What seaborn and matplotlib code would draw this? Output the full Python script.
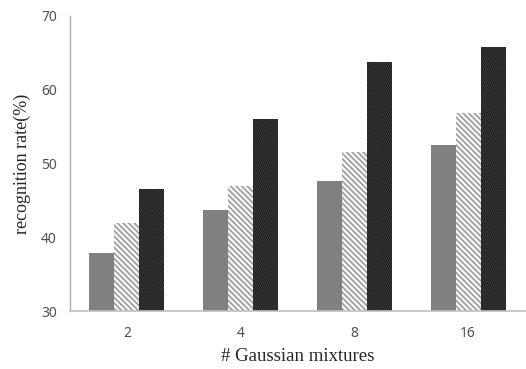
import pandas as pd
import seaborn as sns
import matplotlib.pyplot as plt

## data ------------------------------------------------------------------
mixtures = ['2', '4', '8', '16']
series = ['s1', 's2', 's3']
rate_s1 = [37.9, 43.7, 47.6, 52.5]
rate_s2 = [41.9, 46.9, 51.6, 56.9]
rate_s3 = [46.5, 56.0, 63.8, 65.8]

df = pd.DataFrame({
    'mixtures': mixtures * 3,
    'series': [s for s in series for _ in mixtures],
    'rate': rate_s1 + rate_s2 + rate_s3,
})

## plot ------------------------------------------------------------------
sns.set_style('white')
plt.rcParams['hatch.linewidth'] = 1.2

f = plt.figure(figsize=(5.26, 3.69), dpi=100)
ax = f.add_axes([0.133, 0.157, 0.865, 0.80])

sns.barplot(data=df, x='mixtures', y='rate', hue='series', order=mixtures,
            hue_order=series, width=0.66, gap=0, legend=False, ax=ax,
            palette=['#808080', '#f8f8f8', '#080808'], saturation=1)

styles = [('#808080', ''), ('#9c9c9c', '\\' * 6), ('#4a4a4a', '.' * 8)]
for cont, (ec, hatch) in zip(ax.containers, styles):
    for bar in cont:
        bar.set_hatch(hatch)
        bar.set_edgecolor(ec)
        bar.set_linewidth(0)

ax.set_ylim(30, 70)
ax.set_yticks([30, 40, 50, 60, 70])
ax.set_xlim(-0.5, 3.5)

sns.despine(ax=ax)
ax.spines['left'].set_color('#b0b0b0')
ax.spines['bottom'].set_color('#c0c0c0')
ax.spines['left'].set_linewidth(1.0)
ax.spines['bottom'].set_linewidth(1.2)

ax.tick_params(axis='y', direction='in', length=4, color='#b0b0b0',
               labelsize=10, labelcolor='#505050', pad=9.5)
ax.tick_params(axis='x', length=0, labelsize=10, labelcolor='#505050', pad=11)
for lab in ax.get_xticklabels() + ax.get_yticklabels():
    lab.set_fontfamily('Noto Sans')

ax.set_xlabel('# Gaussian mixtures', fontsize=13.5, family='Liberation Serif', labelpad=5)
ax.set_ylabel('recognition rate(%)', fontsize=13, family='Liberation Serif', labelpad=7)

f.savefig('out.png', dpi=100)
